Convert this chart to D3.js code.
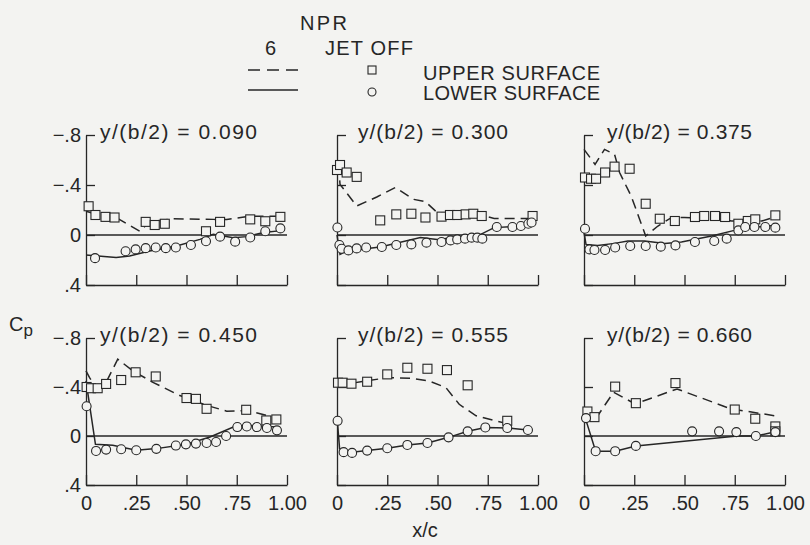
<!DOCTYPE html>
<html>
<head>
<meta charset="utf-8">
<script src="https://cdn.jsdelivr.net/npm/d3@7"></script>
<style>
  body { margin: 0; background: #f3f3f1; }
  svg { display: block; }
  text { font-family: "Liberation Sans", Arial, sans-serif; fill: #262626; }
</style>
</head>
<body>
<div class="chart"></div>
<script>
// spanwise stations, one panel each
const stations = ["0.090", "0.300", "0.375", "0.450", "0.555", "0.660"];
const xTicks = [0, 0.25, 0.5, 0.75, 1];
const xTickLabels = ["0", ".25", ".50", ".75", "1.00"];
const yTicks = [-0.8, -0.4, 0, 0.4];
const yTickLabels = ["\u2212.8", "\u2212.4", "0", ".4"];

// [x/c, Cp]  squares = upper surface jet off, dashed = upper NPR 6
const upperPts1 = [[0.013,-0.23],[0.047,-0.16],[0.097,-0.145],[0.142,-0.14],[0.297,-0.105],[0.342,-0.08],[0.392,-0.09],[0.597,-0.03],[0.667,-0.105],[0.817,-0.125],[0.892,-0.11],[0.967,-0.145]];
const upperLine1 = [[0,-0.19],[0.067,-0.16],[0.15,-0.14],[0.267,-0.03],[0.317,-0.105],[0.433,-0.13],[0.633,-0.125],[0.7,-0.125],[0.817,-0.15],[0.983,-0.15]];
const lowerPts1 = [[0.045,0.185],[0.197,0.13],[0.247,0.115],[0.297,0.105],[0.347,0.1],[0.397,0.105],[0.447,0.1],[0.522,0.08],[0.597,0.05],[0.667,0.013],[0.742,0.053],[0.817,0.02],[0.892,-0.03],[0.967,-0.053]];
const lowerLine1 = [[0,0.16],[0.15,0.18],[0.217,0.168],[0.317,0.128],[0.45,0.088],[0.567,0.035],[0.633,-0.005],[0.733,0.021],[0.8,0.013],[0.883,-0.02],[0.983,-0.037]];

const upperPts2 = [[0.0,-0.52],[0.015,-0.56],[0.048,-0.5],[0.098,-0.465],[0.215,-0.117],[0.295,-0.165],[0.37,-0.17],[0.44,-0.14],[0.52,-0.147],[0.562,-0.16],[0.598,-0.16],[0.64,-0.165],[0.678,-0.17],[0.72,-0.152],[0.973,-0.152]];
const upperLine2 = [[0.007,-0.565],[0.015,-0.405],[0.098,-0.232],[0.198,-0.304],[0.29,-0.38],[0.382,-0.285],[0.44,-0.267],[0.498,-0.18],[0.6,-0.17],[0.715,-0.16],[0.782,-0.133],[0.973,-0.133]];
const lowerPts2 = [[0.002,-0.06],[0.012,0.08],[0.023,0.11],[0.057,0.123],[0.098,0.107],[0.145,0.1],[0.223,0.096],[0.295,0.08],[0.37,0.075],[0.445,0.061],[0.52,0.056],[0.565,0.043],[0.598,0.035],[0.637,0.029],[0.67,0.021],[0.698,0.021],[0.723,0.029],[0.795,-0.064],[0.873,-0.064],[0.915,-0.072],[0.952,-0.09],[0.968,-0.1]];
const lowerLine2 = [[0,0],[0.015,0.155],[0.048,0.128],[0.215,0.096],[0.415,0.021],[0.498,0.035],[0.715,-0.005],[0.782,-0.059],[0.915,-0.072],[0.982,-0.107]];

const upperPts3 = [[0.005,-0.46],[0.035,-0.45],[0.06,-0.45],[0.105,-0.5],[0.152,-0.547],[0.227,-0.53],[0.307,-0.25],[0.377,-0.13],[0.452,-0.112],[0.552,-0.144],[0.598,-0.152],[0.652,-0.152],[0.702,-0.144],[0.768,-0.09],[0.815,-0.112],[0.852,-0.125],[0.952,-0.157]];
const upperLine3 = [[0,-0.685],[0.055,-0.565],[0.102,-0.685],[0.152,-0.645],[0.177,-0.5],[0.235,-0.31],[0.307,0.008],[0.368,-0.072],[0.435,-0.139],[0.5,-0.14],[0.668,-0.131],[0.735,-0.112],[0.885,-0.112],[0.968,-0.152]];
const lowerPts3 = [[0.005,-0.05],[0.027,0.115],[0.052,0.12],[0.105,0.12],[0.155,0.1],[0.23,0.088],[0.307,0.088],[0.382,0.093],[0.455,0.083],[0.552,0.056],[0.648,0.048],[0.71,0.029],[0.768,-0.037],[0.802,-0.064],[0.848,-0.064],[0.902,-0.064],[0.952,-0.059]];
const lowerLine3 = [[0,-0.02],[0.01,0.075],[0.068,0.083],[0.152,0.067],[0.218,0.048],[0.302,0.048],[0.402,0.067],[0.485,0.056],[0.635,0.008],[0.768,-0.045],[0.902,-0.072],[0.968,-0.077]];

const upperPts4 = [[0.003,-0.4],[0.025,-0.39],[0.058,-0.39],[0.1,-0.425],[0.175,-0.457],[0.247,-0.52],[0.347,-0.486],[0.5,-0.31],[0.547,-0.303],[0.6,-0.222],[0.797,-0.214],[0.897,-0.127],[0.947,-0.135]];
const upperLine4 = [[0,-0.532],[0.017,-0.478],[0.05,-0.397],[0.1,-0.438],[0.158,-0.627],[0.233,-0.532],[0.333,-0.438],[0.467,-0.33],[0.6,-0.25],[0.7,-0.203],[0.8,-0.208],[0.9,-0.168],[0.95,-0.154]];
const lowerPts4 = [[0.003,-0.243],[0.05,0.122],[0.1,0.111],[0.175,0.108],[0.25,0.116],[0.35,0.105],[0.447,0.078],[0.497,0.068],[0.547,0.062],[0.6,0.057],[0.647,0.049],[0.697,0.0],[0.753,-0.073],[0.8,-0.078],[0.85,-0.073],[0.9,-0.065],[0.95,-0.046]];
const lowerLine4 = [[0,-0.45],[0.047,0.068],[0.133,0.076],[0.25,0.116],[0.35,0.103],[0.5,0.068],[0.617,0.008],[0.733,-0.073],[0.817,-0.086],[0.95,-0.073]];

const upperPts5 = [[0.005,-0.435],[0.028,-0.435],[0.072,-0.427],[0.15,-0.443],[0.25,-0.503],[0.35,-0.557],[0.45,-0.549],[0.547,-0.538],[0.65,-0.414],[0.847,-0.124]];
const upperLine5 = [[0.005,-0.462],[0.042,-0.422],[0.158,-0.454],[0.258,-0.476],[0.375,-0.47],[0.458,-0.449],[0.542,-0.395],[0.608,-0.259],[0.692,-0.165],[0.775,-0.13],[0.842,-0.103]];
const lowerPts5 = [[0.003,-0.124],[0.033,0.132],[0.075,0.138],[0.15,0.119],[0.25,0.1],[0.35,0.073],[0.45,0.057],[0.555,0.011],[0.65,-0.038],[0.738,-0.07],[0.847,-0.065],[0.95,-0.049]];
const lowerLine5 = [[0.003,-0.097],[0.013,0.105],[0.042,0.138],[0.15,0.119],[0.25,0.1],[0.35,0.073],[0.45,0.057],[0.555,0.011],[0.65,-0.038],[0.738,-0.07],[0.847,-0.065],[0.95,-0.049]];

const upperPts6 = [[0.017,-0.2],[0.052,-0.154],[0.155,-0.403],[0.258,-0.268],[0.455,-0.432],[0.75,-0.216],[0.852,-0.141],[0.952,-0.078],[0.952,-0.038]];
const upperLine6 = [[0.005,-0.181],[0.047,-0.114],[0.147,-0.357],[0.255,-0.262],[0.463,-0.384],[0.73,-0.222],[0.963,-0.162]];
const lowerPts6 = [[0.01,-0.146],[0.058,0.124],[0.155,0.124],[0.258,0.081],[0.538,-0.038],[0.672,-0.038],[0.758,-0.032],[0.855,0.0],[0.952,-0.032]];
const lowerLine6 = [[0.005,-0.154],[0.058,0.124],[0.155,0.124],[0.258,0.081],[0.763,0.0],[0.855,0.0],[0.963,-0.038]];

const upperPts = [upperPts1, upperPts2, upperPts3, upperPts4, upperPts5, upperPts6];
const upperLines = [upperLine1, upperLine2, upperLine3, upperLine4, upperLine5, upperLine6];
const lowerPts = [lowerPts1, lowerPts2, lowerPts3, lowerPts4, lowerPts5, lowerPts6];
const lowerLines = [lowerLine1, lowerLine2, lowerLine3, lowerLine4, lowerLine5, lowerLine6];

const width = 810, height = 545;
const ink = "#262626", paper = "#f3f3f1";
const colX = [86, 337, 584], panelW = 201;
const rowY = [[135, 285], [338, 485]];
const titleDx = [14, 21, 23], titleLen = [157, 150, 145];
const dash = "10,6";

const svg = d3.select(".chart").append("svg")
    .attr("width", width)
    .attr("height", height)
    .style("background", paper);

stations.forEach(function(st, i) {
    const col = i % 3, row = Math.floor(i / 3);
    const xScale = d3.scaleLinear().domain([0, 1]).range([colX[col], colX[col] + panelW]);
    const yScale = d3.scaleLinear().domain([-0.8, 0.4]).range(rowY[row]);
    const g = svg.append("g").attr("class", "panel");

    const xAxis = d3.axisBottom(xScale)
        .tickValues(xTicks)
        .tickSizeInner(-10)
        .tickSizeOuter(0)
        .tickPadding(11)
        .tickFormat((d, j) => row === 1 ? xTickLabels[j] : "");
    const yAxis = d3.axisLeft(yScale)
        .tickValues(yTicks)
        .tickSizeInner(-9)
        .tickSizeOuter(0)
        .tickPadding(5)
        .tickFormat((d, j) => col === 0 ? yTickLabels[j] : "");

    g.append("g")
        .attr("transform", "translate(0," + yScale(0.4) + ")")
        .call(xAxis);
    g.append("g")
        .attr("transform", "translate(" + xScale(0) + ",0)")
        .call(yAxis);
    g.selectAll(".domain, .tick line").attr("stroke", ink).attr("stroke-width", 1.3);
    g.selectAll(".tick text")
        .attr("fill", ink)
        .style("font-family", '"Liberation Sans", Arial, sans-serif')
        .style("font-size", "20px");

    // zero line
    g.append("line")
        .attr("x1", xScale(0)).attr("x2", xScale(1))
        .attr("y1", yScale(0)).attr("y2", yScale(0))
        .attr("stroke", ink).attr("stroke-width", 1.3);

    g.append("text")
        .attr("x", xScale(0) + titleDx[col])
        .attr("y", yScale(-0.8) + 4)
        .attr("font-size", 21)
        .attr("textLength", titleLen[col])
        .attr("lengthAdjust", "spacing")
        .text("y/(b/2) = " + st);

    const line = d3.line()
        .x(d => xScale(d[0]))
        .y(d => yScale(d[1]));

    g.append("path")
        .datum(upperLines[i])
        .attr("fill", "none")
        .attr("stroke", ink)
        .attr("stroke-width", 1.5)
        .attr("stroke-dasharray", dash)
        .attr("d", line);
    g.append("path")
        .datum(lowerLines[i])
        .attr("fill", "none")
        .attr("stroke", ink)
        .attr("stroke-width", 1.5)
        .attr("d", line);

    g.selectAll(".sq")
        .data(upperPts[i])
        .join("rect")
        .attr("class", "sq")
        .attr("x", d => xScale(d[0]) - 4.5)
        .attr("y", d => yScale(d[1]) - 4.5)
        .attr("width", 9).attr("height", 9)
        .attr("fill", paper)
        .attr("stroke", ink)
        .attr("stroke-width", 1.1);
    g.selectAll(".ci")
        .data(lowerPts[i])
        .join("circle")
        .attr("class", "ci")
        .attr("cx", d => xScale(d[0]))
        .attr("cy", d => yScale(d[1]))
        .attr("r", 4.5)
        .attr("fill", paper)
        .attr("stroke", ink)
        .attr("stroke-width", 1.1);
});

// legend
const leg = svg.append("g").attr("font-size", 20);
leg.append("text").attr("x", 300).attr("y", 30).attr("textLength", 47).text("NPR");
leg.append("text").attr("x", 265).attr("y", 55).text("6");
leg.append("text").attr("x", 325).attr("y", 55).attr("textLength", 88).text("JET OFF");
leg.append("line").attr("x1", 248).attr("x2", 298).attr("y1", 70).attr("y2", 70)
    .attr("stroke", ink).attr("stroke-width", 1.5).attr("stroke-dasharray", "12,7");
leg.append("line").attr("x1", 248).attr("x2", 298).attr("y1", 90).attr("y2", 90)
    .attr("stroke", ink).attr("stroke-width", 1.5);
leg.append("rect").attr("x", 368).attr("y", 66).attr("width", 8).attr("height", 8)
    .attr("fill", paper).attr("stroke", ink).attr("stroke-width", 1.1);
leg.append("circle").attr("cx", 372).attr("cy", 92).attr("r", 4)
    .attr("fill", paper).attr("stroke", ink).attr("stroke-width", 1.1);
leg.append("text").attr("x", 423).attr("y", 80).attr("textLength", 177).text("UPPER SURFACE");
leg.append("text").attr("x", 423).attr("y", 100).attr("textLength", 177).text("LOWER SURFACE");

// axis titles
const cp = svg.append("text").attr("x", 9).attr("y", 331).attr("font-size", 20);
cp.append("tspan").text("C");
cp.append("tspan").attr("dy", 5).attr("font-size", 17).text("p");
svg.append("text")
    .attr("x", 425).attr("y", 537)
    .attr("text-anchor", "middle")
    .attr("font-size", 20)
    .text("x/c");
</script>
</body>
</html>
